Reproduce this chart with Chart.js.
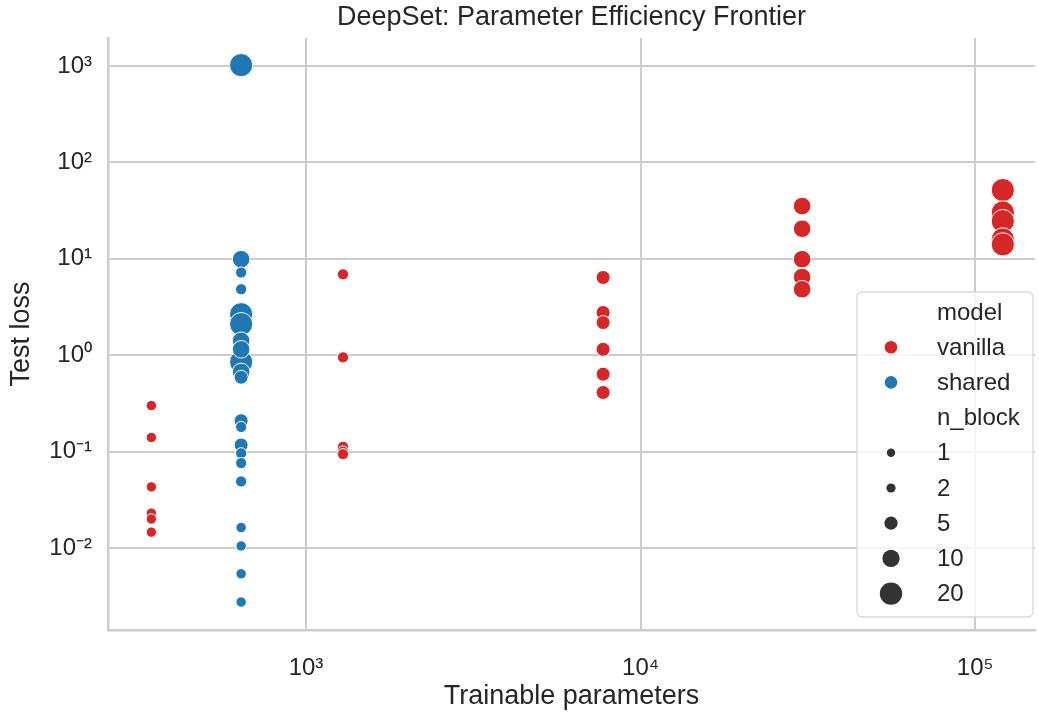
<!DOCTYPE html>
<html>
<head>
<meta charset="utf-8">
<script src="https://cdn.jsdelivr.net/npm/chart.js@4.4.1/dist/chart.umd.min.js"></script>
<style>
  html, body { margin: 0; padding: 0; background: #fff; overflow: hidden; }
  canvas { display: block; }
</style>
</head>
<body>
<canvas id="frontier" width="1039" height="717"></canvas>
<script>
// vanilla runs: parameter count, test loss, n_block
const vanillaParams = [345, 345, 345, 345, 345, 345,
  1290, 1290, 1290, 1290, 1290,
  7730, 7730, 7730, 7730, 7730, 7730,
  30400, 30400, 30400, 30400, 30400,
  121000, 121000, 121000, 121000, 121000];
const vanillaLoss = [0.30, 0.14, 0.043, 0.023, 0.020, 0.0146,
  6.9, 0.95, 0.112, 0.100, 0.094,
  6.4, 2.77, 2.18, 1.15, 0.635, 0.41,
  35.2, 20.5, 9.9, 6.46, 4.83,
  51.6, 30.2, 24.6, 15.9, 14.1];
const vanillaBlocks = [1, 1, 1, 1, 1, 1,
  2, 2, 2, 2, 2,
  5, 5, 5, 5, 5, 5,
  10, 10, 10, 10, 10,
  20, 20, 20, 20, 20];

// shared runs (all same parameter count)
const sharedParams = [640, 640, 640, 640, 640, 640, 640, 640, 640, 640, 640,
  640, 640, 640, 640, 640, 640, 640, 640, 640, 640];
const sharedLoss = [1020, 2.66, 2.1, 0.85,
  9.9, 1.41, 1.15, 0.67,
  0.209, 0.117, 0.59,
  7.2, 4.83, 0.18, 0.096, 0.076, 0.049,
  0.0163, 0.0105, 0.0054, 0.00275];
const sharedBlocks = [20, 20, 20, 20,
  10, 10, 10, 10,
  5, 5, 5,
  2, 2, 2, 2, 2, 2,
  1, 1, 1, 1];

const blockLevels = [1, 2, 5, 10, 20];
const xTicks = [1e3, 1e4, 1e5];
const yTicks = [1e-2, 1e-1, 1e0, 1e1, 1e2, 1e3];

const RED = "#d62728";
const BLUE = "#1f77b4";
const INK = "#262626";
const GRID = "#cccccc";
const FONT = "'Liberation Sans', Arial, sans-serif";

const pointRadius = { 1: 5.2, 2: 5.6, 5: 7, 10: 8.8, 20: 11.6 };
const legendRadius = { 1: 4.2, 2: 4.6, 5: 6.6, 10: 8.6, 20: 11.2 };

const sup = { "-": "\u207B", "0": "\u2070", "1": "\u00B9", "2": "\u00B2", "3": "\u00B3", "4": "\u2074", "5": "\u2075" };
function powLabel(v) {
  const e = String(Math.round(Math.log10(v)));
  return "10" + e.split("").map((c) => sup[c]).join("");
}

function toPoints(xs, ys) {
  return xs.map((x, i) => ({ x: x, y: ys[i] }));
}

const titlePlugin = {
  id: "axesTitle",
  afterDraw(chart) {
    const { ctx, chartArea } = chart;
    ctx.save();
    ctx.fillStyle = INK;
    ctx.font = "27px " + FONT;
    ctx.textAlign = "center";
    ctx.textBaseline = "middle";
    ctx.fillText("DeepSet: Parameter Efficiency Frontier", (chartArea.left + chartArea.right) / 2, 18);
    ctx.restore();
  },
};

const legendPlugin = {
  id: "hueSizeLegend",
  afterDatasetsDraw(chart) {
    const { ctx, chartArea } = chart;
    const right = chartArea.right - 2;
    const bottom = chartArea.bottom - 13;
    const w = 176, h = 325;
    const left = right - w, top = bottom - h;
    ctx.save();
    ctx.beginPath();
    ctx.roundRect(left, top, w, h, 5);
    ctx.fillStyle = "rgba(255,255,255,0.8)";
    ctx.fill();
    ctx.strokeStyle = "#d9d9d9";
    ctx.lineWidth = 1.3;
    ctx.stroke();

    const rows = [
      { text: "model" },
      { text: "vanilla", color: RED, r: 6.3 },
      { text: "shared", color: BLUE, r: 6.3 },
      { text: "n_block" },
    ];
    blockLevels.forEach((b) => rows.push({ text: String(b), color: "#333333", r: legendRadius[b] }));

    const markerX = left + 34;
    const textX = left + 80;
    ctx.font = "24px " + FONT;
    ctx.textBaseline = "middle";
    ctx.textAlign = "left";
    rows.forEach((row, i) => {
      const y = top + 20 + i * 35.2;
      if (row.color) {
        ctx.beginPath();
        ctx.arc(markerX, y, row.r, 0, Math.PI * 2);
        ctx.fillStyle = row.color;
        ctx.fill();
      }
      ctx.fillStyle = INK;
      ctx.fillText(row.text, textX, y + 1);
    });
    ctx.restore();
  },
};

const ctx = document.getElementById("frontier").getContext("2d");

const chart = new Chart(ctx, {
  type: "scatter",
  data: {
    datasets: [
      {
        label: "vanilla",
        data: toPoints(vanillaParams, vanillaLoss),
        backgroundColor: RED,
        borderColor: "#ffffff",
        borderWidth: 1,
        pointRadius: vanillaBlocks.map((b) => pointRadius[b]),
        pointHoverRadius: vanillaBlocks.map((b) => pointRadius[b]),
      },
      {
        label: "shared",
        data: toPoints(sharedParams, sharedLoss),
        backgroundColor: BLUE,
        borderColor: "#ffffff",
        borderWidth: 1,
        pointRadius: sharedBlocks.map((b) => pointRadius[b]),
        pointHoverRadius: sharedBlocks.map((b) => pointRadius[b]),
      },
    ],
  },
  options: {
    responsive: false,
    animation: false,
    layout: { autoPadding: false, padding: { top: 38, right: 4, left: 0, bottom: 0 } },
    plugins: {
      legend: { display: false },
      tooltip: { enabled: false },
    },
    scales: {
      x: {
        type: "logarithmic",
        min: 256,
        max: 151000,
        afterBuildTicks: (scale) => {
          scale.ticks = xTicks.map((v) => ({ value: v }));
        },
        afterFit: (scale) => {
          scale.height = 87;
          scale.paddingLeft = 0;
          scale.paddingRight = 0;
        },
        grid: { color: GRID, lineWidth: 2, drawTicks: false },
        border: { display: true, color: GRID, width: 2.5 },
        ticks: {
          color: INK,
          font: { family: FONT, size: 24 },
          padding: 24,
          maxRotation: 0,
          callback: (v) => powLabel(v),
        },
        title: {
          display: true,
          text: "Trainable parameters",
          color: INK,
          font: { family: FONT, size: 27 },
          padding: { top: 0, bottom: 4 },
        },
      },
      y: {
        type: "logarithmic",
        min: 0.00141,
        max: 1950,
        afterBuildTicks: (scale) => {
          scale.ticks = yTicks.map((v) => ({ value: v }));
        },
        afterFit: (scale) => {
          scale.width = 108;
          scale.paddingTop = 0;
          scale.paddingBottom = 0;
        },
        grid: { color: GRID, lineWidth: 2, drawTicks: false },
        border: { display: true, color: GRID, width: 2.5 },
        ticks: {
          color: INK,
          font: { family: FONT, size: 24 },
          padding: 16,
          callback: (v) => powLabel(v),
        },
        title: {
          display: true,
          text: "Test loss",
          color: INK,
          font: { family: FONT, size: 27 },
          padding: { top: 5, bottom: 0 },
        },
      },
    },
  },
  plugins: [titlePlugin, legendPlugin],
});
</script>
</body>
</html>
